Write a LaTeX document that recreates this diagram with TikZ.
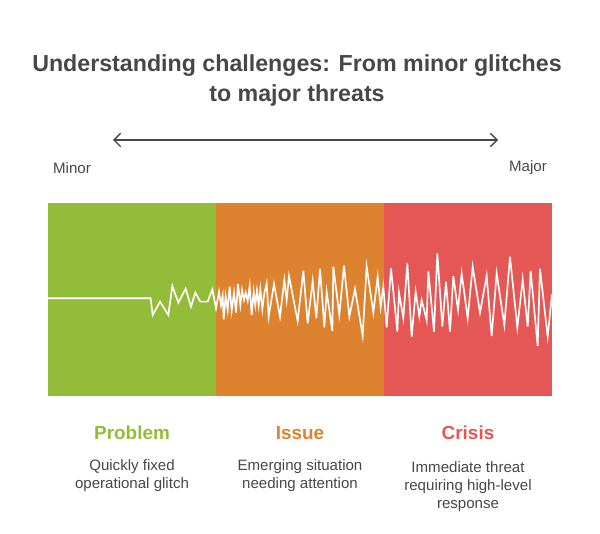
\documentclass[tikz,border=0pt]{standalone}
\usepackage{fontspec}
\setmainfont{Liberation Sans}
\usetikzlibrary{arrows.meta}
\definecolor{cgreen}{HTML}{93BD39}
\definecolor{corange}{HTML}{DD8330}
\definecolor{cred}{HTML}{E45754}
\definecolor{ctext}{HTML}{474747}
\tikzset{
  band/.style={fill=#1, draw=none},
  title/.style={font=\fontsize{17.4}{22.5}\selectfont\bfseries, text=ctext, align=center},
  endlabel/.style={font=\fontsize{11.3}{13}\selectfont, text=ctext},
  head/.style={font=\fontsize{14.2}{16}\selectfont\bfseries, text=#1},
  desc/.style={font=\fontsize{11.3}{13.5}\selectfont, text=ctext, align=center},
  wave/.style={draw=white, line width=1.25pt, line join=miter}
}
\begin{document}
\begin{tikzpicture}[x=0.75pt, y=-0.75pt]
\useasboundingbox (0,0) rectangle (600,534);
\node[title] (t) at (297,80.5) {Understanding challenges: From minor glitches\\to major threats};
\coordinate (la) at (113,140);
\coordinate (ra) at (498,140);
\draw[draw=ctext, line width=1pt, {Straight Barb[length=5pt,width=10pt]}-{Straight Barb[length=5pt,width=10pt]}] (la) -- (ra);
\node[endlabel] (minor) at (72,168) {Minor};
\node[endlabel] (major) at (528,168) {Major};
\path[band=cgreen] (48,203) rectangle (216,396);
\path[band=corange] (216,203) rectangle (384,396);
\path[band=cred] (384,203) rectangle (552,396);
\begin{scope}[shift={(40,190)}, scale=0.33333]
\draw[wave] (24,325) -- (332,325) -- (338,375) -- (360,335) -- (385,375) -- (397,288) -- (415,338) -- (437,296) -- (453,350) -- (466,308) -- (481,335) -- (503,335) -- (517,298)
 -- (528,355) -- (537,305) -- (543,345) -- (548,318) -- (551,388) -- (557,318) -- (563,360) -- (569,290) -- (575,362) -- (582,308) -- (588,368) -- (594,282) -- (601,345) -- (606,300) -- (612,330) -- (617,308) -- (623,332) -- (629,288) -- (635,375) -- (641,305) -- (646,345) -- (651,302) -- (656,345) -- (661,298) -- (667,358) -- (673,310) -- (680,280) -- (686,380) -- (702,282) -- (720,380) -- (733,270) -- (740,330) -- (747,258) -- (773,393) -- (790,242) -- (803,400) -- (818,273) -- (829,385) -- (840,237) -- (853,412) -- (860,305) -- (877,423) -- (880,230) -- (898,375) -- (912,227) -- (928,380) -- (945,297) -- (968,437) -- (980,230) -- (1000,368) -- (1013,260) -- (1022,352) -- (1030,290)
 -- (1040,412) -- (1053,235) -- (1072,425) -- (1077,308) -- (1090,385) -- (1102,220) -- (1115,440) -- (1127,305) -- (1138,380) -- (1145,330) -- (1160,390) -- (1165,244) -- (1182,425) -- (1192,190) -- (1207,410) -- (1218,275) -- (1230,425) -- (1240,258) -- (1254,360) -- (1265,250) -- (1283,385) -- (1298,230) -- (1320,368) -- (1340,258) -- (1355,438) -- (1370,250) -- (1393,405) -- (1410,200) -- (1432,413) -- (1448,268) -- (1463,410) -- (1472,243) -- (1493,468) -- (1500,236) -- (1523,440) -- (1536,313);
\end{scope}
\node[head=cgreen] (p) at (132,433) {Problem};
\node[head=corange] (i) at (300,433) {Issue};
\node[head=cred] (c) at (468,433) {Crisis};
\node[desc] (pd) at (132,475.5) {Quickly fixed\\operational glitch};
\node[desc] (id) at (300,475.5) {Emerging situation\\needing attention};
\node[desc] (cd) at (468,486.5) {Immediate threat\\requiring high-level\\response};
\end{tikzpicture}
\end{document}
